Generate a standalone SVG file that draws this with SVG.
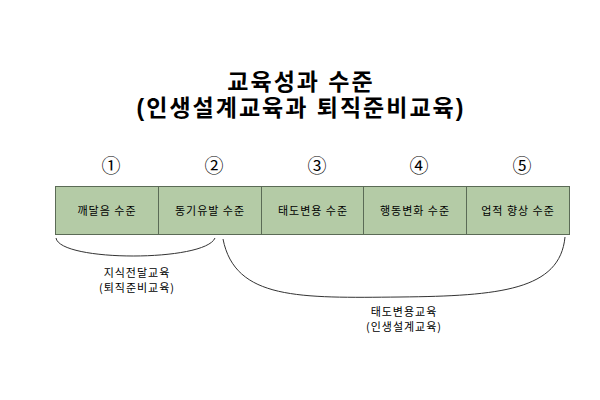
<svg xmlns="http://www.w3.org/2000/svg" width="600" height="400" viewBox="0 0 600 400">
<style>
text{font-family:"Noto Sans CJK KR","DejaVu Sans",sans-serif;fill:#000;text-anchor:middle}
.title{font-family:"Liberation Sans","Noto Sans CJK KR",sans-serif;font-size:23px;font-weight:bold;letter-spacing:2px}
.num{font-size:19px}
.lbl{font-size:11px;letter-spacing:1px}
.box{fill:#b4cba6;stroke:#5b6b56;stroke-width:1}
.arc{fill:none;stroke:#333;stroke-width:1}
</style>
<rect width="600" height="400" fill="#fff"/>
<g id="title">
<text class="title" x="301" y="90">교육성과 수준</text>
<text class="title" x="301" y="116">(인생설계교육과 퇴직준비교육)</text>
</g>
<g id="n1"><text class="num" x="111" y="173">①</text><rect class="box" x="55.5" y="186.5" width="103" height="48"/><text class="lbl" x="107" y="215">깨달음 수준</text></g>
<g id="n2"><text class="num" x="214" y="173">②</text><rect class="box" x="158.5" y="186.5" width="103" height="48"/><text class="lbl" x="210" y="215">동기유발 수준</text></g>
<g id="n3"><text class="num" x="317" y="173">③</text><rect class="box" x="261.5" y="186.5" width="102" height="48"/><text class="lbl" x="313" y="215">태도변용 수준</text></g>
<g id="n4"><text class="num" x="419" y="173">④</text><rect class="box" x="363.5" y="186.5" width="103" height="48"/><text class="lbl" x="415" y="215">행동변화 수준</text></g>
<g id="n5"><text class="num" x="522" y="173">⑤</text><rect class="box" x="466.5" y="186.5" width="103" height="48"/><text class="lbl" x="518" y="215">업적 향상 수준</text></g>
<g id="connectors">
<path class="arc" d="M56,238 C60,262 205,262 215,238"/>
<path class="arc" d="M223,239 C235,300 300,298 400,297 C500,296 560,290 565,237"/>
</g>
<g id="labels">
<text class="lbl" x="137" y="277">지식전달교육</text>
<text class="lbl" x="137" y="292">(퇴직준비교육)</text>
<text class="lbl" x="404" y="316">태도변용교육</text>
<text class="lbl" x="404" y="331">(인생설계교육)</text>
</g>
</svg>
